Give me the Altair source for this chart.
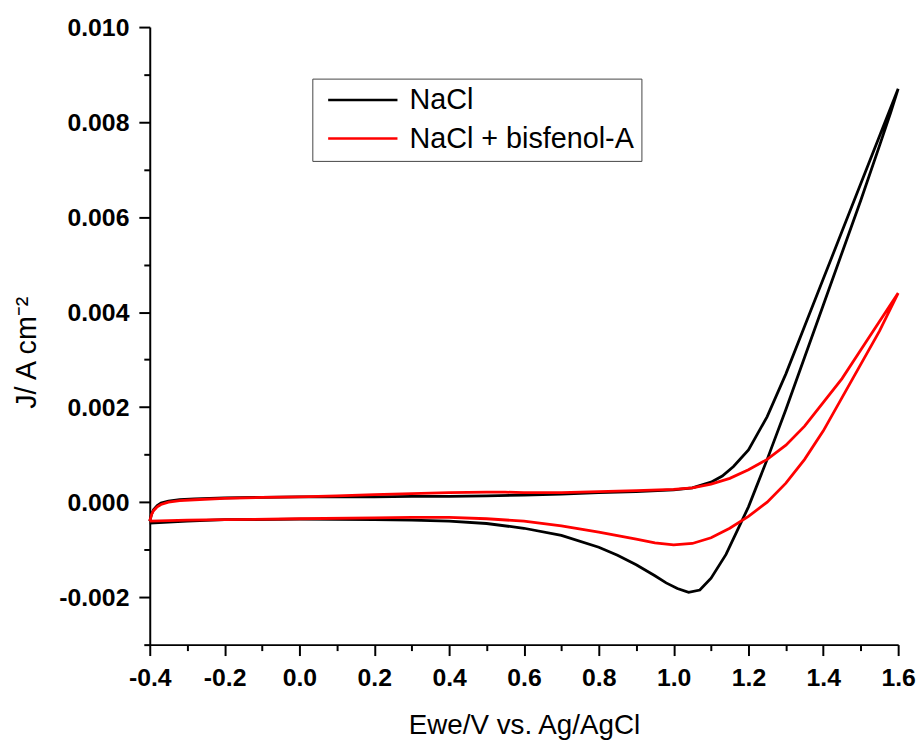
import altair as alt
import pandas as pd

SERIES = ["NaCl", "NaCl + bisfenol-A"]
COLORS = ["#000000", "#ff0000"]

# NaCl: forward (anodic) scan
nacl_fwd_E = [-0.40, -0.395, -0.39, -0.38, -0.37, -0.35, -0.32, -0.28, -0.20, -0.10, 0.00, 0.10, 0.20, 0.30,
              0.40, 0.50, 0.60, 0.70, 0.80, 0.90, 1.00, 1.05, 1.10, 1.13, 1.16, 1.20, 1.25, 1.30, 1.35, 1.40,
              1.45, 1.50, 1.55, 1.60]
nacl_fwd_J = [-0.00040, -0.00025, -0.00016, -0.00007, -0.00002, 0.00002, 0.00005, 0.00007, 0.00009, 0.00010,
              0.00011, 0.00011, 0.00011, 0.00012, 0.00012, 0.00013, 0.00015, 0.00017, 0.00020, 0.00022,
              0.00026, 0.00030, 0.00042, 0.00055, 0.00075, 0.00110, 0.00180, 0.00270, 0.00370, 0.00470,
              0.00570, 0.00670, 0.00770, 0.00870]
# NaCl: reverse (cathodic) scan
nacl_rev_E = [1.60, 1.58, 1.55, 1.50, 1.45, 1.40, 1.35, 1.30, 1.25, 1.22, 1.20, 1.17, 1.14, 1.10, 1.07, 1.04,
              1.01, 0.98, 0.95, 0.90, 0.85, 0.80, 0.70, 0.60, 0.50, 0.40, 0.30, 0.20, 0.00, -0.20, -0.30, -0.40]
nacl_rev_J = [0.00870, 0.00820, 0.00750, 0.00635, 0.00525, 0.00415, 0.00305, 0.00195, 0.00090, 0.00030,
              -0.00010, -0.00060, -0.00110, -0.00160, -0.00185, -0.00190, -0.00182, -0.00170, -0.00155,
              -0.00132, -0.00112, -0.00095, -0.00070, -0.00055, -0.00045, -0.00040, -0.00038, -0.00037,
              -0.00036, -0.00037, -0.00040, -0.00044]

# NaCl + bisfenol-A: forward scan
bpa_fwd_E = [-0.40, -0.395, -0.39, -0.38, -0.37, -0.35, -0.32, -0.28, -0.20, -0.10, 0.00, 0.10, 0.20, 0.30,
             0.40, 0.50, 0.55, 0.60, 0.70, 0.80, 0.90, 1.00, 1.05, 1.10, 1.15, 1.20, 1.25, 1.30, 1.35, 1.40,
             1.45, 1.50, 1.55, 1.60]
bpa_fwd_J = [-0.00040, -0.00026, -0.00018, -0.00010, -0.00005, 0.00000, 0.00003, 0.00005, 0.00008, 0.00010,
             0.00011, 0.00013, 0.00016, 0.00018, 0.00020, 0.00021, 0.00021, 0.00020, 0.00020, 0.00022,
             0.00024, 0.00027, 0.00030, 0.00038, 0.00050, 0.00068, 0.00090, 0.00120, 0.00160, 0.00210,
             0.00260, 0.00320, 0.00380, 0.00440]
# NaCl + bisfenol-A: reverse scan
bpa_rev_E = [1.60, 1.55, 1.50, 1.45, 1.40, 1.35, 1.30, 1.25, 1.20, 1.15, 1.10, 1.05, 1.00, 0.95, 0.90, 0.80,
             0.70, 0.60, 0.50, 0.40, 0.30, 0.20, 0.00, -0.20, -0.30, -0.40]
bpa_rev_J = [0.00440, 0.00360, 0.00290, 0.00220, 0.00150, 0.00090, 0.00040, 0.00000, -0.00030, -0.00055,
             -0.00075, -0.00087, -0.00090, -0.00086, -0.00078, -0.00063, -0.00050, -0.00040, -0.00035,
             -0.00032, -0.00032, -0.00033, -0.00035, -0.00037, -0.00038, -0.00040]

X_TICKS = [-0.4, -0.3, -0.2, -0.1, 0.0, 0.1, 0.2, 0.3, 0.4, 0.5, 0.6, 0.7, 0.8, 0.9, 1.0, 1.1, 1.2, 1.3,
           1.4, 1.5, 1.6]
Y_TICKS = [-0.003, -0.002, -0.001, 0.000, 0.001, 0.002, 0.003, 0.004, 0.005, 0.006, 0.007, 0.008, 0.009,
           0.010]

rows = []
def add(name, Es, Js, start):
    for i, (e, j) in enumerate(zip(Es, Js)):
        rows.append({"series": name, "idx": start + i, "E": e, "J": j})
    return start + len(Es)

n = add(SERIES[0], nacl_fwd_E, nacl_fwd_J, 0)
add(SERIES[0], nacl_rev_E, nacl_rev_J, n)
n = add(SERIES[1], bpa_fwd_E, bpa_fwd_J, 0)
add(SERIES[1], bpa_rev_E, bpa_rev_J, n)
df = pd.DataFrame(rows)

FONT = "Liberation Sans"

x_axis = alt.Axis(
    values=X_TICKS,
    labelExpr="abs(round(datum.value*10)) % 2 == 0 ? (datum.value < -1e-9 ? '-' : '') + format(abs(datum.value), '.1f') : ''",
    tickSize={"condition": {"test": "abs(round(datum.value*10)) % 2 != 0", "value": 6}, "value": 11},
    labelFlush=False, labelOverlap=False, labelPadding=10,
    title="Ewe/V vs. Ag/AgCl", titleY=90, titleBaseline="alphabetic",
)
y_axis = alt.Axis(
    values=Y_TICKS,
    labelExpr="abs(round(datum.value*1000)) % 2 == 0 ? (datum.value < -1e-9 ? '-' : '') + format(abs(datum.value), '.3f') : ''",
    tickSize={"condition": {"test": "abs(round(datum.value*1000)) % 2 != 0", "value": 6}, "value": 11},
    labelFlush=False, labelOverlap=False, labelPadding=10,
    title="J/ A cm\u207b\u00b2", titleX=-115, titleY=328, titleBaseline="alphabetic", titleAngle=270,
    titleFontSize=29,
)

chart = alt.Chart(df).mark_line(strokeWidth=2.8).encode(
    x=alt.X("E:Q", scale=alt.Scale(domain=[-0.4, 1.6], nice=False, zero=False), axis=x_axis),
    y=alt.Y("J:Q", scale=alt.Scale(domain=[-0.003, 0.010], nice=False, zero=False), axis=y_axis),
    color=alt.Color("series:N", scale=alt.Scale(domain=SERIES, range=COLORS),
                    legend=alt.Legend(orient="none", legendX=164, legendY=52, title=None,
                                      symbolType="M -0.48 0 L 5.6 0", symbolSize=529,
                                      symbolStrokeWidth=2.5, labelFont=FONT, labelFontSize=29,
                                      labelColor="black", labelOffset=62, labelLimit=0, padding=7,
                                      rowPadding=9, strokeColor="#444444", fillColor="white")),
    order=alt.Order("idx:Q"),
).properties(
    width=755, height=623,
    background="white",
    autosize=alt.AutoSizeParams(type="none"),
    padding={"left": 143, "top": 16, "right": 18, "bottom": 98},
).configure_view(stroke=None).configure_axis(
    grid=False, domainColor="black", domainWidth=2, tickColor="black", tickWidth=2,
    labelFont=FONT, labelFontWeight="bold", labelFontSize=25, labelColor="black",
    titleFont=FONT, titleFontWeight="normal", titleFontSize=28, titleColor="black",
)

chart.save("out.html", embed_options={"renderer": "svg", "actions": False})
